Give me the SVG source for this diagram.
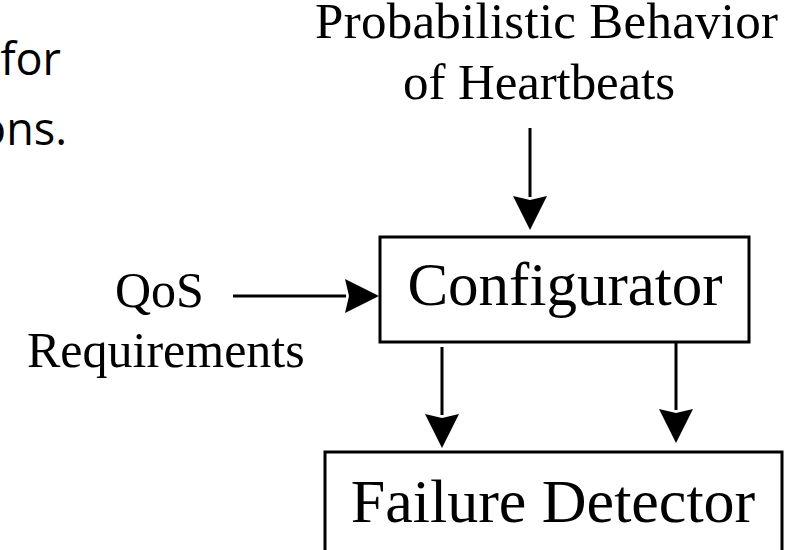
<svg xmlns="http://www.w3.org/2000/svg" width="785" height="550" viewBox="0 0 785 550">
  <style>
    .bg { fill: #ffffff; }
    .box { fill: #ffffff; stroke: #000000; stroke-width: 3; }
    .lbl { font-family: "Liberation Serif", "Times New Roman", serif; fill: #000000; }
    .body { font-family: "Open Sans", "Noto Sans", sans-serif; fill: #000000; font-size: 45px; }
    .wire { fill: none; stroke: #000000; stroke-width: 3; marker-end: url(#head); }
  </style>
  <defs>
    <!-- arrowhead: base at the line end, tip 33px ahead -->
    <marker id="head" markerUnits="userSpaceOnUse" markerWidth="40" markerHeight="40"
            viewBox="-3 -20 40 40" refX="0" refY="0" orient="auto" overflow="visible">
      <path d="M-1,-17 L33,0 L-1,17 L3,0 Z" fill="#000000"/>
    </marker>
  </defs>

  <rect class="bg" x="0" y="0" width="785" height="550"/>

  <!-- fragments of slide body text on the left edge -->
  <g id="slide-text">
    <text class="body" x="61" y="75" text-anchor="end">for</text>
    <text class="body" x="67" y="145" text-anchor="end">ons.</text>
  </g>

  <g id="connectors">
    <line class="wire" x1="530" y1="128" x2="530" y2="197"/>
    <line class="wire" x1="233" y1="296" x2="346" y2="296"/>
    <line class="wire" x1="442" y1="347" x2="442" y2="415"/>
    <line class="wire" x1="676" y1="342" x2="676" y2="410"/>
  </g>

  <g id="heartbeats">
    <text class="lbl" font-size="51" x="315" y="38" textLength="463">Probabilistic Behavior</text>
    <text class="lbl" font-size="51" x="403" y="99" textLength="272">of Heartbeats</text>
  </g>

  <g id="qos">
    <text class="lbl" font-size="50" x="115" y="307">QoS</text>
    <text class="lbl" font-size="50" x="27" y="367">Requirements</text>
  </g>

  <g id="configurator">
    <rect class="box" x="380" y="237" width="369" height="105"/>
    <text class="lbl" font-size="61" x="565" y="305" text-anchor="middle">Configurator</text>
  </g>

  <g id="failure-detector">
    <rect class="box" x="325" y="452" width="457" height="120"/>
    <text class="lbl" font-size="62" x="553" y="522" text-anchor="middle">Failure Detector</text>
  </g>
</svg>
